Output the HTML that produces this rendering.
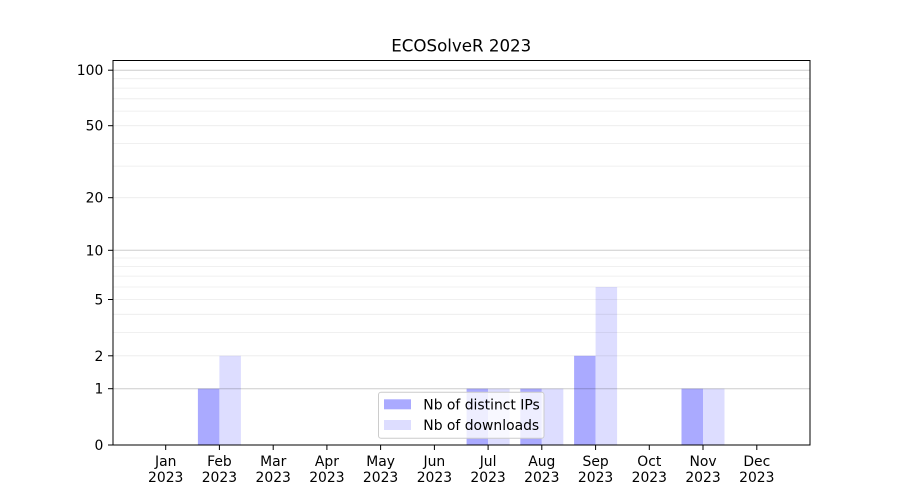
<!DOCTYPE html>
<html><head><meta charset="utf-8"><style>
html,body{margin:0;padding:0;background:#fff;}
svg{display:block;font-family:"DejaVu Sans","Liberation Sans",sans-serif;}
</style></head><body>
<svg width="900" height="500" viewBox="0 0 900 500" xmlns="http://www.w3.org/2000/svg">
<rect width="900" height="500" fill="#fff"/>
<!-- bars -->
<g>
<rect x="197.9" y="388.7" width="21.5" height="56.3" fill="#aaaaff"/>
<rect x="219.4" y="355.8" width="21.5" height="89.2" fill="#ddddff"/>
<rect x="466.6" y="388.7" width="21.5" height="56.3" fill="#aaaaff"/>
<rect x="488.1" y="388.7" width="21.5" height="56.3" fill="#ddddff"/>
<rect x="520.3" y="388.7" width="21.5" height="56.3" fill="#aaaaff"/>
<rect x="541.8" y="388.7" width="21.5" height="56.3" fill="#ddddff"/>
<rect x="574.1" y="355.8" width="21.5" height="89.2" fill="#aaaaff"/>
<rect x="595.6" y="287.0" width="21.5" height="158.0" fill="#ddddff"/>
<rect x="681.5" y="388.7" width="21.5" height="56.3" fill="#aaaaff"/>
<rect x="703.0" y="388.7" width="21.5" height="56.3" fill="#ddddff"/>
</g>
<!-- minor grid -->
<g stroke="#000" stroke-opacity="0.08" stroke-width="0.8">
<line x1="113" x2="810" y1="355.8" y2="355.8"/>
<line x1="113" x2="810" y1="332.4" y2="332.4"/>
<line x1="113" x2="810" y1="314.3" y2="314.3"/>
<line x1="113" x2="810" y1="299.5" y2="299.5"/>
<line x1="113" x2="810" y1="287.0" y2="287.0"/>
<line x1="113" x2="810" y1="276.1" y2="276.1"/>
<line x1="113" x2="810" y1="266.6" y2="266.6"/>
<line x1="113" x2="810" y1="258.0" y2="258.0"/>
<line x1="113" x2="810" y1="197.7" y2="197.7"/>
<line x1="113" x2="810" y1="166.1" y2="166.1"/>
<line x1="113" x2="810" y1="143.4" y2="143.4"/>
<line x1="113" x2="810" y1="125.7" y2="125.7"/>
<line x1="113" x2="810" y1="111.1" y2="111.1"/>
<line x1="113" x2="810" y1="98.8" y2="98.8"/>
<line x1="113" x2="810" y1="88.1" y2="88.1"/>
<line x1="113" x2="810" y1="78.7" y2="78.7"/>
</g>
<!-- major grid -->
<g stroke="#000" stroke-opacity="0.2" stroke-width="1">
<line x1="113" x2="810" y1="388.7" y2="388.7"/>
<line x1="113" x2="810" y1="250.3" y2="250.3"/>
<line x1="113" x2="810" y1="70.2" y2="70.2"/>
</g>
<!-- spines -->
<rect x="113" y="60.5" width="697" height="384.5" fill="none" stroke="#000" stroke-width="1"/>
<!-- y ticks -->
<g stroke="#000" stroke-width="1">
<line x1="108" x2="113" y1="445" y2="445"/>
<line x1="108" x2="113" y1="388.7" y2="388.7"/>
<line x1="108" x2="113" y1="355.8" y2="355.8"/>
<line x1="108" x2="113" y1="299.5" y2="299.5"/>
<line x1="108" x2="113" y1="250.3" y2="250.3"/>
<line x1="108" x2="113" y1="197.7" y2="197.7"/>
<line x1="108" x2="113" y1="125.7" y2="125.7"/>
<line x1="108" x2="113" y1="70.2" y2="70.2"/>
</g>
<g font-size="13.9" fill="#000" text-anchor="end">
<text x="103.3" y="450">0</text>
<text x="103.3" y="393.7">1</text>
<text x="103.3" y="360.8">2</text>
<text x="103.3" y="304.5">5</text>
<text x="103.3" y="255.3">10</text>
<text x="103.3" y="202.7">20</text>
<text x="103.3" y="130.7">50</text>
<text x="103.3" y="75.2">100</text>
</g>
<!-- x ticks -->
<g stroke="#000" stroke-width="1">
<line x1="165.7" x2="165.7" y1="445" y2="450"/>
<line x1="219.4" x2="219.4" y1="445" y2="450"/>
<line x1="273.2" x2="273.2" y1="445" y2="450"/>
<line x1="326.9" x2="326.9" y1="445" y2="450"/>
<line x1="380.6" x2="380.6" y1="445" y2="450"/>
<line x1="434.4" x2="434.4" y1="445" y2="450"/>
<line x1="488.1" x2="488.1" y1="445" y2="450"/>
<line x1="541.8" x2="541.8" y1="445" y2="450"/>
<line x1="595.6" x2="595.6" y1="445" y2="450"/>
<line x1="649.3" x2="649.3" y1="445" y2="450"/>
<line x1="703.0" x2="703.0" y1="445" y2="450"/>
<line x1="756.8" x2="756.8" y1="445" y2="450"/>
</g>
<g font-size="13.9" fill="#000" text-anchor="middle">
<text x="165.7" y="466">Jan</text><text x="165.7" y="482">2023</text>
<text x="219.4" y="466">Feb</text><text x="219.4" y="482">2023</text>
<text x="273.2" y="466">Mar</text><text x="273.2" y="482">2023</text>
<text x="326.9" y="466">Apr</text><text x="326.9" y="482">2023</text>
<text x="380.6" y="466">May</text><text x="380.6" y="482">2023</text>
<text x="434.4" y="466">Jun</text><text x="434.4" y="482">2023</text>
<text x="488.1" y="466">Jul</text><text x="488.1" y="482">2023</text>
<text x="541.8" y="466">Aug</text><text x="541.8" y="482">2023</text>
<text x="595.6" y="466">Sep</text><text x="595.6" y="482">2023</text>
<text x="649.3" y="466">Oct</text><text x="649.3" y="482">2023</text>
<text x="703.0" y="466">Nov</text><text x="703.0" y="482">2023</text>
<text x="756.8" y="466">Dec</text><text x="756.8" y="482">2023</text>
</g>
<!-- title -->
<text x="461.25" y="51.5" font-size="16.67" text-anchor="middle" fill="#000">ECOSolveR 2023</text>
<!-- legend -->
<rect x="378.5" y="392.3" width="165.5" height="46" rx="2.5" ry="2.5" fill="#fff" fill-opacity="0.8" stroke="#ccc" stroke-width="1"/>
<rect x="384" y="399.3" width="27" height="10" fill="#aaaaff"/>
<rect x="384" y="420" width="27" height="10" fill="#ddddff"/>
<g font-size="13.9" fill="#000">
<text x="423.3" y="409.3">Nb of distinct IPs</text>
<text x="423.3" y="430">Nb of downloads</text>
</g>
</svg>
</body></html>
